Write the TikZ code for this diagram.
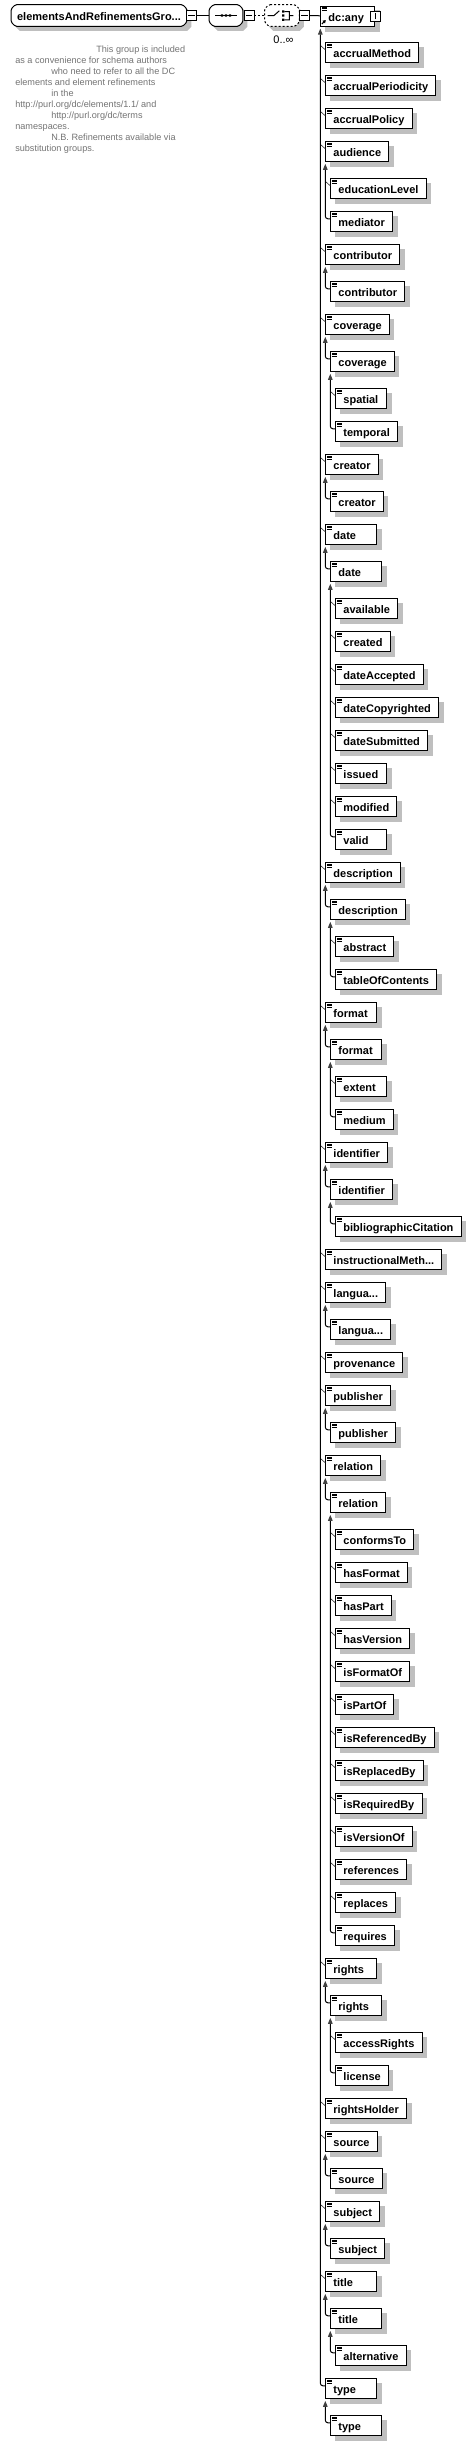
\documentclass[tikz,border=0pt]{standalone}
\usepackage{fontspec}
\setmainfont{Liberation Sans}
\usepackage{tikz}
\usetikzlibrary{calc,arrows.meta}

\pgfdeclarelayer{background}
\pgfsetlayers{background,main}

\def\nopar{-}
\newcommand\eltext[1]{\setbox0\hbox{#1}\ifdim\wd0<26.8pt\hbox to 26.8pt{\box0\hfil}\else\box0\fi}
\newcommand\modelshape[2]{\path [#2] ($(#1.north west)+(4,0)$) -- ($(#1.north east)+(-4,0)$)
  -- ($(#1.north east)+(0,4)$) -- ($(#1.south east)+(0,-4)$) -- ($(#1.south east)+(-4,0)$)
  -- ($(#1.south west)+(4,0)$) -- ($(#1.south west)+(0,-4)$) -- ($(#1.north west)+(0,4)$) -- cycle;}

\tikzset{
  boxshade/.style={fill=black!25},
  lbl/.style={font=\bfseries\fontsize{8.25}{10}\selectfont, text height=7.5pt, text depth=0pt},
  el/.style={lbl, draw, fill=white, line width=.75pt, inner xsep=5.74pt, inner ysep=0pt, minimum height=15pt},
  modelbox/.style={lbl, inner sep=0pt, minimum height=15.75pt},
  modelline/.style={draw, fill=white, line width=.75pt, rounded corners=1pt},
  fold/.style={draw, fill=white, line width=.6pt, minimum size=7.5pt, inner sep=0pt,
    path picture={\draw [line width=.6pt] ([xshift=1.4pt]path picture bounding box.west) -- ([xshift=-1.4pt]path picture bounding box.east);}},
  unfold/.style={fold,
    path picture={\draw [line width=.6pt] ([yshift=1.4pt]path picture bounding box.south) -- ([yshift=-1.4pt]path picture bounding box.north);}},
  treeline/.style={line width=.75pt, rounded corners=2pt, arrows={Triangle[width=3.4pt,length=4.5pt,color=black!75]-}},
  twig/.style={line width=.45pt, black!80},
  docicon/.style={line width=.6pt},
  docline/.style={anchor=base west, inner sep=0pt, text=black!55, font=\fontsize{6.85}{8.25}\selectfont}
}

\begin{document}
\begin{tikzpicture}[x=.75pt, y=-.75pt]
\useasboundingbox (0,0) rectangle (475,2445);

\node [modelbox, minimum width=131.25pt] (group) at (99,15.5) {elementsAndRefinementsGro...};
\node [fold] (groupfold) at (191.5,15.5) {};
\node [modelbox, minimum width=24.75pt] (seq) at (226,15.5) {};
\node [fold] (seqfold) at (249,15.5) {};
\node [modelbox, minimum width=25.5pt] (choice) at (282,15.5) {};
\node [fold] (choicefold) at (304.5,15.5) {};
\node [anchor=base, font=\fontsize{8.25}{10}\selectfont, inner sep=0pt] (occurs) at (283.5,43) {0..∞};
\node [el, anchor=north west, minimum height=15.4pt] (anyEl) at (320.3,5.5) {\makebox[29pt][l]{dc:any}};
\node [unfold] (anyPlus) at (anyEl.east) {};

\begin{pgfonlayer}{background}
\foreach \m in {group,seq,choice}
  \modelshape{\m}{boxshade, transform canvas={shift={(4.5,4.5)}}}
\fill [boxshade] ($(anyEl.north west)+(4.5,4.5)$) rectangle ($(anyEl.south east)+(4.5,4.5)$);
\modelshape{group}{modelline}
\modelshape{seq}{modelline}
\modelshape{choice}{modelline, dash pattern=on 1.5pt off 1.5pt}
\end{pgfonlayer}

\path [draw, line width=.75pt] (groupfold) -- (seq);
\path [draw, line width=.75pt, dash pattern=on 1.5pt off 1.5pt] (seqfold) -- (choice);
\path [draw, line width=.75pt] (choicefold) -- (anyEl);

\path [draw, line width=.75pt] ($(seq.center)+(-11,0)$) -- ($(seq.center)+(11,0)$);
\fill [shift={(seq.center)}] (-5.2,-1.2) rectangle (-2.8,1.2) (-1.2,-1.2) rectangle (1.2,1.2) (2.8,-1.2) rectangle (5.2,1.2);
\path [draw, line width=.75pt, shift={(choice.center)}] (-14.3,0) -- (-8,0) -- (-2.7,-4.7)
  (2.3,-4) -- (7.3,-4) -- (7.3,4.3) -- (2.3,4.3) (7.3,0) -- (11.3,0);
\fill [shift={(choice.center)}] (0,-5.1) rectangle (2.3,-2.9) (0,-1.1) rectangle (2.3,1.1) (0,3.2) rectangle (2.3,5.4);

\foreach \d in {1.7,3.3,4.9}
  \path [draw, docicon] ($(anyEl.north west)+(1.5,\d)$) -- ++(5,0);
\path [draw, line width=.8pt, -{Triangle[width=2.6pt,length=2.2pt]}] ($(anyEl.south west)+(1.5,-3)$) -- ++(4,-4);

\foreach \x/\txt [count=\i] in {96/{This group is included},
    15/{as a convenience for schema authors},
    51/{who need to refer to all the DC},
    15/{elements and element refinements},
    51/{in the},
    15/{http://purl.org/dc/elements/1.1/ and},
    51/{http://purl.org/dc/terms},
    15/{namespaces.},
    51/{N.B. Refinements available via},
    15/{substitution groups.}}
  \node [docline] (doc\i) at (\x,41.3+11*\i) {\txt};

\foreach \n/\l/\t/\s/\p in {accrualMethod1/1/42.3/accrualMethod/-,
    accrualPeriodicity1/1/75.3/accrualPeriodicity/-,
    accrualPolicy1/1/108.3/accrualPolicy/-,
    audience1/1/141.3/audience/-,
    educationLevel2/2/178.3/educationLevel/-,
    mediator2/2/211.3/mediator/audience1,
    contributor1/1/244.3/contributor/-,
    contributor2/2/281.3/contributor/contributor1,
    coverage1/1/314.3/coverage/-,
    coverage2/2/351.3/coverage/coverage1,
    spatial3/3/388.3/spatial/-,
    temporal3/3/421.3/temporal/coverage2,
    creator1/1/454.3/creator/-,
    creator2/2/491.3/creator/creator1,
    date1/1/524.3/date/-,
    date2/2/561.3/date/date1,
    available3/3/598.3/available/-,
    created3/3/631.3/created/-,
    dateAccepted3/3/664.3/dateAccepted/-,
    dateCopyrighted3/3/697.3/dateCopyrighted/-,
    dateSubmitted3/3/730.3/dateSubmitted/-,
    issued3/3/763.3/issued/-,
    modified3/3/796.3/modified/-,
    valid3/3/829.3/valid/date2,
    description1/1/862.3/description/-,
    description2/2/899.3/description/description1,
    abstract3/3/936.3/abstract/-,
    tableOfContents3/3/969.3/tableOfContents/description2,
    format1/1/1002.3/format/-,
    format2/2/1039.3/format/format1,
    extent3/3/1076.3/extent/-,
    medium3/3/1109.3/medium/format2,
    identifier1/1/1142.3/identifier/-,
    identifier2/2/1179.3/identifier/identifier1,
    bibliographicCitation3/3/1216.3/bibliographicCitation/identifier2,
    instructionalMethod1/1/1249.3/{instructionalMeth...}/-,
    language1/1/1282.3/{langua...}/-,
    language2/2/1319.3/{langua...}/language1,
    provenance1/1/1352.3/provenance/-,
    publisher1/1/1385.3/publisher/-,
    publisher2/2/1422.3/publisher/publisher1,
    relation1/1/1455.3/relation/-,
    relation2/2/1492.3/relation/relation1,
    conformsTo3/3/1529.3/conformsTo/-,
    hasFormat3/3/1562.3/hasFormat/-,
    hasPart3/3/1595.3/hasPart/-,
    hasVersion3/3/1628.3/hasVersion/-,
    isFormatOf3/3/1661.3/isFormatOf/-,
    isPartOf3/3/1694.3/isPartOf/-,
    isReferencedBy3/3/1727.3/isReferencedBy/-,
    isReplacedBy3/3/1760.3/isReplacedBy/-,
    isRequiredBy3/3/1793.3/isRequiredBy/-,
    isVersionOf3/3/1826.3/isVersionOf/-,
    references3/3/1859.3/references/-,
    replaces3/3/1892.3/replaces/-,
    requires3/3/1925.3/requires/relation2,
    rights1/1/1958.3/rights/-,
    rights2/2/1995.3/rights/rights1,
    accessRights3/3/2032.3/accessRights/-,
    license3/3/2065.3/license/rights2,
    rightsHolder1/1/2098.3/rightsHolder/-,
    source1/1/2131.3/source/-,
    source2/2/2168.3/source/source1,
    subject1/1/2201.3/subject/-,
    subject2/2/2238.3/subject/subject1,
    title1/1/2271.3/title/-,
    title2/2/2308.3/title/title1,
    alternative3/3/2345.3/alternative/title2,
    type1/1/2378.3/type/anyEl,
    type2/2/2415.3/type/type1}
{
  \node [el, anchor=north west] (\n) at (320.3+5*\l,\t) {\eltext{\s}};
  \begin{pgfonlayer}{background}
    \fill [boxshade] ($(\n.north west)+(4.5,4.5)$) rectangle ($(\n.south east)+(4.5,4.5)$);
  \end{pgfonlayer}
  \foreach \d in {1.7,3.3,4.9}
    \path [draw, docicon] ($(\n.north west)+(1.5,\d)$) -- ++(5,0);
  \edef\tmp{\p}
  \ifx\tmp\nopar
    \path [draw, twig] ($(\n.north west)+(-5,3)$) -- ($(\n.north west)+(0,7.5)$);
  \else
    \path [draw, treeline] ($(\p.south west)+(0,1.5)$) |- ($(\n.north west)+(0,7.5)$);
  \fi
}
\end{tikzpicture}
\end{document}
